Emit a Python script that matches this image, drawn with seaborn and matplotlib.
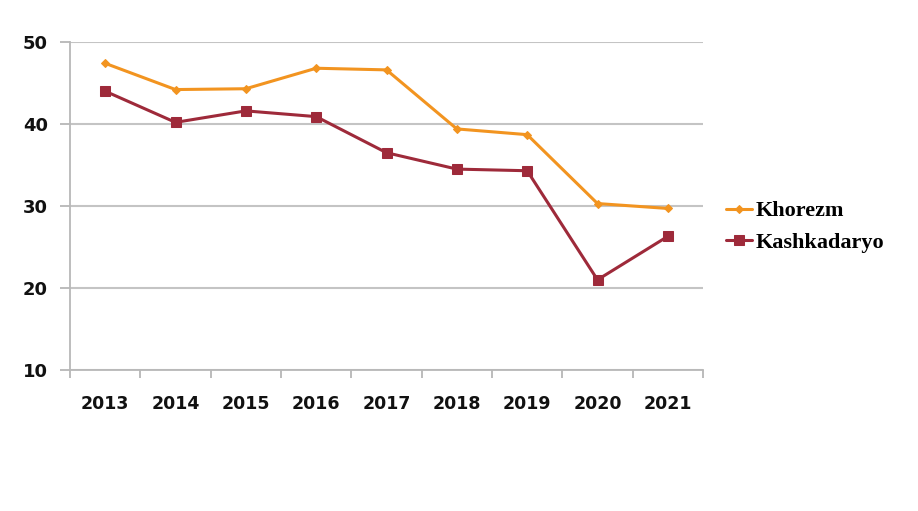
import numpy as np
import pandas as pd
import seaborn as sns
import matplotlib
matplotlib.use("Agg")
import matplotlib.pyplot as plt
from matplotlib.ticker import FixedLocator

years = ["2013", "2014", "2015", "2016", "2017", "2018", "2019", "2020", "2021"]
khorezm = [47.4, 44.2, 44.3, 46.8, 46.6, 39.4, 38.7, 30.3, 29.7]
kashkadaryo = [44.0, 40.2, 41.6, 40.9, 36.5, 34.5, 34.3, 21.0, 26.3]
series_names = ["Khorezm", "Kashkadaryo"]
y_ticks = [10, 20, 30, 40, 50]

df = pd.DataFrame({
    "year": years * 2,
    "value": khorezm + kashkadaryo,
    "region": [series_names[0]] * len(years) + [series_names[1]] * len(years),
})

sns.set_theme(style="white")
fig = plt.figure(figsize=(9.18, 5.11), dpi=100)
ax = fig.add_axes([70 / 918, 1 - 370 / 511, (703 - 70) / 918, (370 - 42) / 511])

palette = {"Khorezm": "#F29420", "Kashkadaryo": "#9E2A3A"}
markers = {"Khorezm": "D", "Kashkadaryo": "s"}
sizes_m = {"Khorezm": 4.5, "Kashkadaryo": 7}

for name in series_names:
    sub = df[df["region"] == name]
    sns.lineplot(data=sub, x="year", y="value", ax=ax, color=palette[name],
                 marker=markers[name], markersize=sizes_m[name],
                 markeredgecolor=palette[name], linewidth=2.2, label=name,
                 sort=False)

ax.set_xlim(-0.5, len(years) - 0.5)
ax.set_ylim(10, 50)
ax.set_yticks(y_ticks)
ax.set_yticklabels([str(t) for t in y_ticks], fontsize=13, fontweight="heavy", color="#111111")
ax.set_xticks(range(len(years)))
ax.set_xticklabels(years, fontsize=12.5, fontweight="heavy", color="#111111")
ax.xaxis.set_minor_locator(FixedLocator(np.arange(-0.5, len(years), 1.0)))
ax.tick_params(axis="x", which="major", length=0, pad=18)
ax.tick_params(axis="x", which="minor", length=6, width=1.2, color="#b0b0b0", bottom=True)
ax.tick_params(axis="y", which="major", length=7, width=1.2, color="#b0b0b0", pad=9, left=True)

ax.grid(axis="y", color="#c4c4c4", linewidth=1.5)
ax.grid(axis="x", visible=False)
for side in ["top", "right"]:
    ax.spines[side].set_visible(False)
for side in ["left", "bottom"]:
    ax.spines[side].set_color("#b8b8b8")
    ax.spines[side].set_linewidth(1.3)
ax.set_xlabel("")
ax.set_ylabel("")

leg = ax.legend(loc="center left", bbox_to_anchor=(726 / 918, 1 - 227 / 511),
                bbox_transform=fig.transFigure, frameon=False,
                prop={"family": "Liberation Serif", "weight": "bold", "size": 16},
                handlelength=1.15, handletextpad=0.2, labelspacing=0.5,
                borderpad=0, borderaxespad=0)
for t in leg.get_texts():
    t.set_color("#000000")

fig.savefig("out.png", dpi=100)
